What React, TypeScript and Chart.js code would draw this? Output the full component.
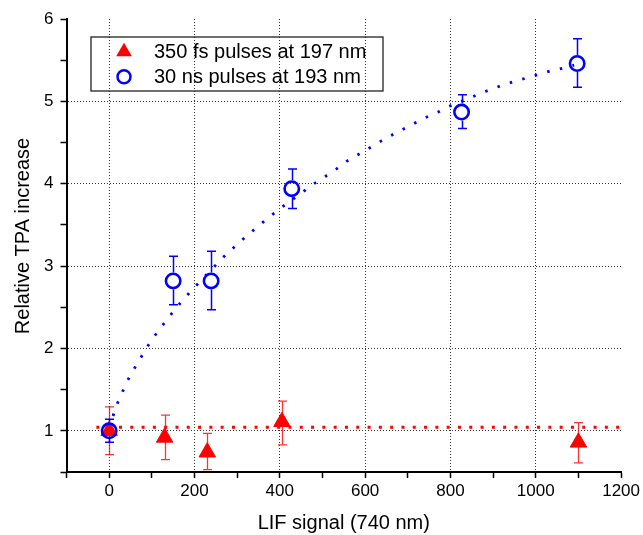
import React, { useEffect, useRef } from 'react';
import { Chart, registerables } from 'chart.js';

Chart.register(...registerables);

// ---- data ----
const seriesLabels = ['350 fs pulses at 197 nm', '30 ns pulses at 193 nm'];
const xTitle = 'LIF signal (740 nm)';
const yTitle = 'Relative TPA increase';
const xTickLabels = ['0', '200', '400', '600', '800', '1000', '1200'];
const yTickLabels = ['1', '2', '3', '4', '5', '6'];

const fsX = [0, 130, 230, 405, 1100];
const fsY = [1.0, 0.92, 0.74, 1.11, 0.86];
const fsLow = [0.71, 0.65, 0.53, 0.83, 0.61];
const fsHigh = [1.29, 1.19, 0.97, 1.36, 1.1];

const nsX = [0, 150, 239, 428, 826, 1097];
const nsY = [1.0, 2.82, 2.82, 3.94, 4.87, 5.46];
const nsLow = [0.86, 2.53, 2.47, 3.7, 4.67, 5.17];
const nsHigh = [1.14, 3.12, 3.18, 4.18, 5.08, 5.76];

const fsFitX = [-30, 1200];
const fsFitY = [1.044, 1.044];

const nsFitX = [0, 9, 19, 30, 42, 56, 72, 88, 106, 125, 146, 168, 192, 216, 242, 268, 295, 321, 348, 374, 401, 454, 480, 507, 533, 559, 586, 612, 638, 666, 692, 718, 745, 771, 797, 849, 876, 903, 929, 956, 982, 1009, 1035, 1061, 1090];
const nsFitY = [1.03, 1.18, 1.33, 1.46, 1.6, 1.73, 1.87, 2.01, 2.15, 2.28, 2.42, 2.56, 2.7, 2.83, 2.97, 3.11, 3.24, 3.36, 3.48, 3.59, 3.7, 3.9, 4.0, 4.09, 4.18, 4.28, 4.36, 4.44, 4.52, 4.6, 4.67, 4.74, 4.81, 4.87, 4.94, 5.05, 5.11, 5.16, 5.21, 5.25, 5.29, 5.33, 5.37, 5.4, 5.44];

const RED = '#ff0000';
const BLUE = '#0000ff';
const FONT = '"Liberation Sans", Arial, Helvetica, sans-serif';

const zip = (xs: number[], ys: number[]) => xs.map((x, i) => ({ x, y: ys[i] }));

const errorBarsPlugin = {
  id: 'errorBars',
  beforeDatasetsDraw(chart: any) {
    const { ctx, scales } = chart;
    const xs = scales.x;
    const ys = scales.y;
    const draw = (X: number[], Y: number[], lo: number[], hi: number[], color: string, width: number, gap: number) => {
      ctx.save();
      ctx.strokeStyle = color;
      ctx.lineWidth = width;
      X.forEach((xv, i) => {
        const px = Math.round(xs.getPixelForValue(xv)) + 0.5;
        const pl = ys.getPixelForValue(lo[i]);
        const ph = ys.getPixelForValue(hi[i]);
        const pc = ys.getPixelForValue(Y[i]);
        ctx.beginPath();
        if (gap > 0) {
          ctx.moveTo(px, ph);
          ctx.lineTo(px, pc - gap);
          ctx.moveTo(px, pc + gap);
          ctx.lineTo(px, pl);
        } else {
          ctx.moveTo(px, ph);
          ctx.lineTo(px, pl);
        }
        ctx.moveTo(px - 4.5, ph);
        ctx.lineTo(px + 4.5, ph);
        ctx.moveTo(px - 4.5, pl);
        ctx.lineTo(px + 4.5, pl);
        ctx.stroke();
      });
      ctx.restore();
    };
    draw(fsX, fsY, fsLow, fsHigh, 'rgba(255,0,0,0.8)', 1.3, 0);
    draw(nsX, nsY, nsLow, nsHigh, BLUE, 1.5, 8.5);
  },
};

const titlesAndLegendPlugin = {
  id: 'titlesLegend',
  afterDraw(chart: any) {
    const { ctx, chartArea } = chart;
    ctx.save();
    // axis titles
    ctx.fillStyle = '#000';
    ctx.font = `20px ${FONT}`;
    ctx.textAlign = 'center';
    ctx.textBaseline = 'middle';
    ctx.fillText(xTitle, (chartArea.left + chartArea.right) / 2, 523);
    ctx.save();
    ctx.translate(23, 236);
    ctx.rotate(-Math.PI / 2);
    ctx.fillText(yTitle, 0, 0);
    ctx.restore();

    // legend
    ctx.font = `20px ${FONT}`;
    const textX = 154;
    const left = 91;
    const top = 37;
    const right = 383;
    const bottom = 91;
    ctx.lineWidth = 1.3;
    ctx.strokeStyle = '#222';
    ctx.strokeRect(left, top, right - left, bottom - top);
    const rows = [51.7, 76.7];
    const mx = 124;
    // triangle
    ctx.fillStyle = RED;
    const r = 9;
    ctx.beginPath();
    ctx.moveTo(mx, rows[0] - r);
    ctx.lineTo(mx + r * Math.sin((2 * Math.PI) / 3), rows[0] + r / 2);
    ctx.lineTo(mx - r * Math.sin((2 * Math.PI) / 3), rows[0] + r / 2);
    ctx.closePath();
    ctx.fill();
    // circle
    ctx.strokeStyle = BLUE;
    ctx.lineWidth = 2.5;
    ctx.beginPath();
    ctx.arc(mx, rows[1], 6.5, 0, Math.PI * 2);
    ctx.stroke();
    ctx.fillStyle = '#000';
    ctx.textAlign = 'left';
    ctx.fillText(seriesLabels[0], textX, rows[0] + 1);
    ctx.fillText(seriesLabels[1], textX, rows[1] + 1);
    ctx.restore();
  },
};

export default function App() {
  const ref = useRef<HTMLCanvasElement | null>(null);
  useEffect(() => {
    document.body.style.margin = '0';
    if (!ref.current) return;
    Chart.defaults.font.family = FONT;
    Chart.defaults.color = '#000';
    const chart = new Chart(ref.current, {
      type: 'scatter',
      data: {
        datasets: [
          {
            label: 'fs fit',
            data: zip(fsFitX, fsFitY),
            showLine: true,
            borderColor: RED,
            borderWidth: 3,
            borderDash: [3, 8.3],
            pointRadius: 0,
            order: 4,
          },
          {
            label: 'ns fit',
            data: zip(nsFitX, nsFitY),
            showLine: true,
            borderColor: BLUE,
            borderWidth: 2.8,
            borderDash: [2.5, 10.5],
            pointRadius: 0,
            tension: 0,
            order: 3,
          },
          {
            label: seriesLabels[0],
            data: zip(fsX, fsY),
            showLine: false,
            pointStyle: 'triangle',
            pointRadius: 9.5,
            pointBorderWidth: 1,
            backgroundColor: RED,
            borderColor: RED,
            order: 2,
          },
          {
            label: seriesLabels[1],
            data: zip(nsX, nsY),
            showLine: false,
            pointStyle: 'circle',
            pointRadius: 7.2,
            pointBorderWidth: 2.6,
            backgroundColor: 'rgba(0,0,0,0)',
            borderColor: BLUE,
            order: 1,
          },
        ],
      },
      options: {
        animation: false,
        responsive: false,
        devicePixelRatio: 1,
        layout: { padding: { top: 19, right: 17.5, left: 0, bottom: 0 } },
        plugins: {
          legend: { display: false },
          tooltip: { enabled: false },
        },
        scales: {
          x: {
            type: 'linear',
            min: -100,
            max: 1200,
            afterFit: (s: any) => {
              s.height = 63;
            },
            ticks: {
              stepSize: 100,
              autoSkip: false,
              maxRotation: 0,
              padding: 3,
              font: { size: 17 },
              color: '#000',
              callback: (v: any) => (xTickLabels.includes(String(v)) ? String(v) : ''),
            },
            grid: {
              color: (c: any) => {
                const v = c.tick ? c.tick.value : null;
                return v !== null && v >= 0 && v <= 1000 && v % 200 === 0 ? '#333' : 'rgba(0,0,0,0)';
              },
              lineWidth: 1,
              tickColor: '#000',
              tickLength: 6,
              tickWidth: 1.5,
              drawTicks: true,
            },
            border: { display: true, color: '#000', width: 2, dash: [1, 2] },
          },
          y: {
            type: 'linear',
            min: 0.5,
            max: 6,
            afterFit: (s: any) => {
              s.width = 66.5;
            },
            ticks: {
              stepSize: 0.5,
              autoSkip: false,
              padding: 7,
              font: { size: 17 },
              color: '#000',
              callback: (v: any) => (yTickLabels.includes(String(v)) ? String(v) : ''),
            },
            grid: {
              color: (c: any) => {
                const v = c.tick ? c.tick.value : null;
                return v !== null && v >= 1 && v <= 5 && Number.isInteger(v) ? '#333' : 'rgba(0,0,0,0)';
              },
              lineWidth: 1,
              tickColor: '#000',
              tickLength: 6,
              tickWidth: 1.5,
              drawTicks: true,
            },
            border: { display: true, color: '#000', width: 2, dash: [1, 2] },
          },
        },
      },
      plugins: [errorBarsPlugin, titlesAndLegendPlugin],
    } as any);
    return () => chart.destroy();
  }, []);
  return (
    <div style={{ width: 643, height: 535 }}>
      <canvas ref={ref} width={643} height={535} style={{ display: 'block' }} />
    </div>
  );
}
